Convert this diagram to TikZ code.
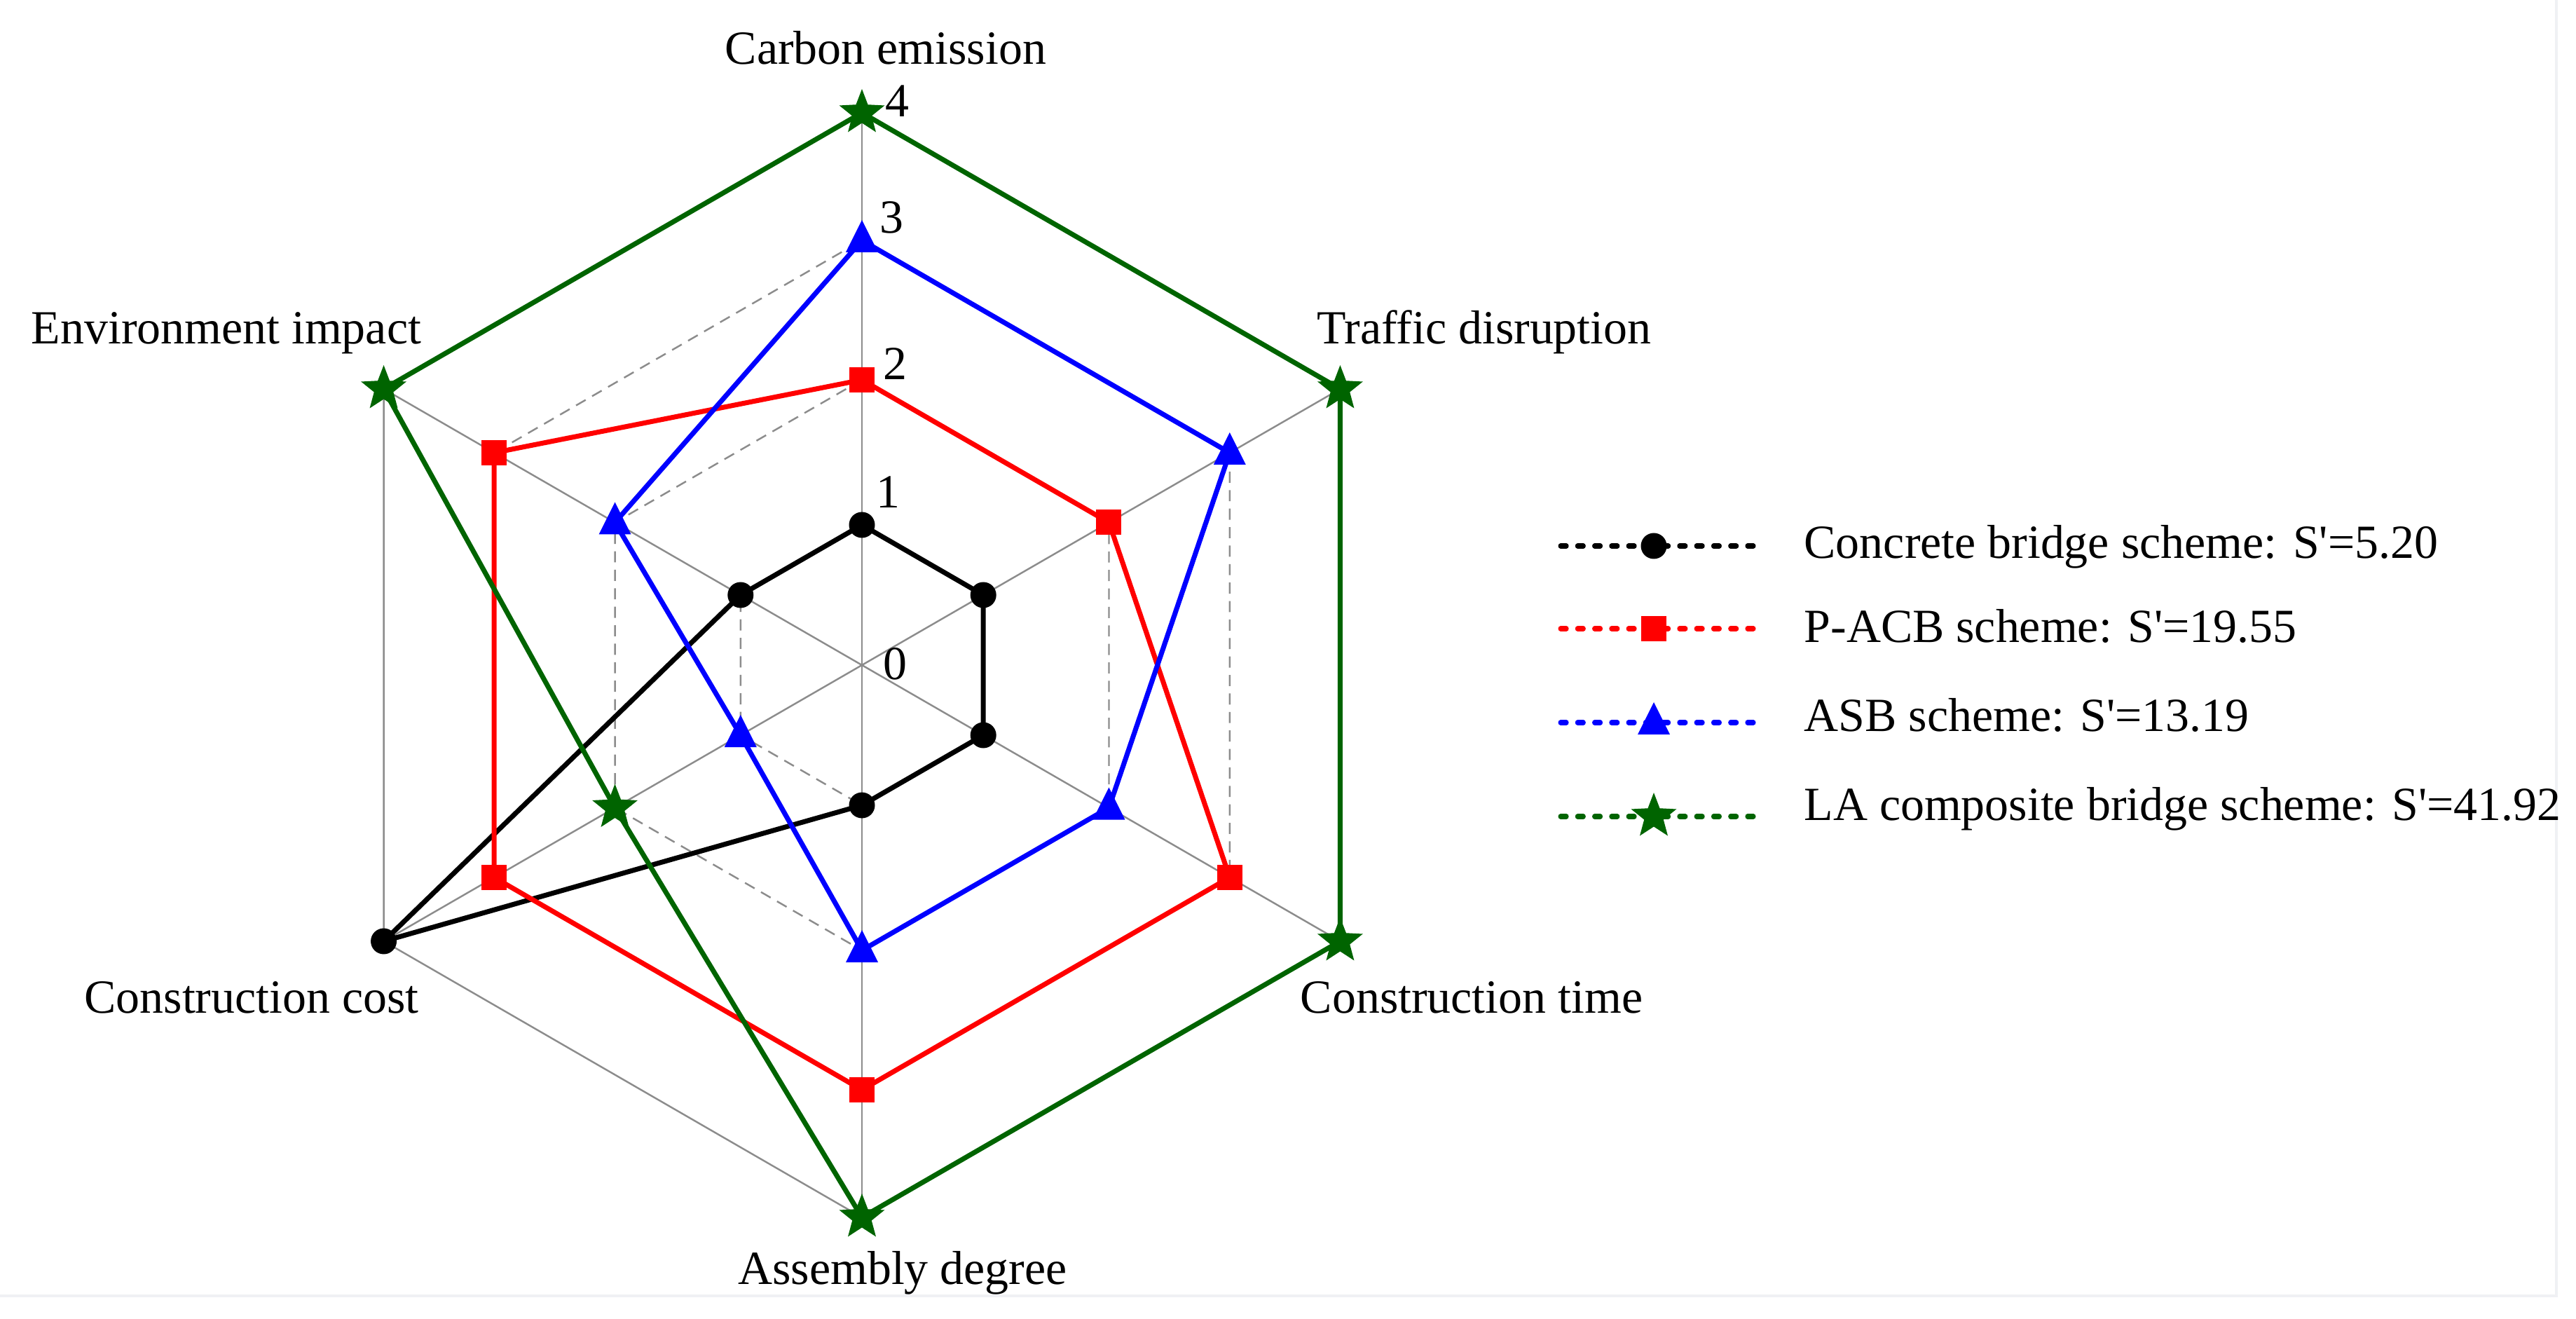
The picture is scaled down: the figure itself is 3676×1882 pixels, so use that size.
\documentclass[tikz,border=0pt]{standalone}
\usepackage{fontspec}
\setmainfont{Liberation Serif}
\definecolor{gridgray}{RGB}{140,140,140}
\definecolor{lagreen}{RGB}{0,100,0}
\definecolor{framegray}{RGB}{240,241,244}
\newcommand\mkCirc[2]{\fill[#2] (#1) circle (18.5);}
\newcommand\mkSq[2]{\fill[#2,shift={(#1)}] (-18,-18) rectangle (18,18);}
\newcommand\mkTri[2]{\fill[#2,shift={(#1)}] (0,29) -- (-23,-17) -- (23,-17) -- cycle;}
\newcommand\mkStar[2]{\fill[#2,shift={(#1)}] (90:34) -- (126:14.5) -- (162:34) -- (198:14.5) -- (234:34) -- (270:14.5) -- (306:34) -- (342:14.5) -- (18:34) -- (54:14.5) -- cycle;}
\newcommand\sq{\XeTeXglyph\XeTeXcharglyph"27\relax}
\begin{document}
\begin{tikzpicture}[x=0.01cm,y=0.01cm,
  font=\fontsize{19.3}{23}\selectfont,
  gridline/.style={draw=gridgray,line width=0.7pt},
  gridring/.style={draw=gridgray,line width=0.7pt,dash pattern=on 4.5pt off 3pt},
  series/.style={line width=2pt,line join=miter},
  legline/.style={line width=2pt,line cap=round,dash pattern=on 2.3pt off 4.6pt},
  axlabel/.style={anchor=base,inner sep=0pt},
  ticklabel/.style={anchor=base west,inner sep=0pt},
  legtext/.style={anchor=base west,inner sep=0pt}]
\useasboundingbox (-1230,-933) rectangle (2446,949);
% faint frame of the original screenshot
\draw[framegray,line width=1pt] (-1230,-900) -- (2418,-900) -- (2418,949);
\def\rA{200}\def\rB{407}\def\rC{606}\def\rD{788}
% grid
\coordinate (O) at (0,0);
\foreach \a in {90,30,-30,-90,-150,150} \draw[gridline] (O) -- (\a:\rD);
\foreach \r in {\rA,\rB,\rC} \draw[gridring] (90:\r) -- (30:\r) -- (-30:\r) -- (-90:\r) -- (-150:\r) -- (150:\r) -- cycle;
\draw[gridline] (90:\rD) -- (30:\rD) -- (-30:\rD) -- (-90:\rD) -- (-150:\rD) -- (150:\rD) -- cycle;
% data points
\coordinate (k1) at (90:\rA); \coordinate (k2) at (30:\rA); \coordinate (k3) at (-30:\rA);
\coordinate (k4) at (-90:\rA); \coordinate (k5) at (210:\rD); \coordinate (k6) at (150:\rA);
\coordinate (r1) at (90:\rB); \coordinate (r2) at (30:\rB); \coordinate (r3) at (-30:\rC);
\coordinate (r4) at (-90:\rC); \coordinate (r5) at (210:\rC); \coordinate (r6) at (150:\rC);
\coordinate (b1) at (90:\rC); \coordinate (b2) at (30:\rC); \coordinate (b3) at (-30:\rB);
\coordinate (b4) at (-90:\rB); \coordinate (b5) at (210:\rA); \coordinate (b6) at (150:\rB);
\coordinate (g1) at (90:\rD); \coordinate (g2) at (30:\rD); \coordinate (g3) at (-30:\rD);
\coordinate (g4) at (-90:\rD); \coordinate (g5) at (210:\rB); \coordinate (g6) at (150:\rD);
% series
\draw[series,black] (k1) -- (k2) -- (k3) -- (k4) -- (k5) -- (k6) -- cycle;
\foreach \p in {k1,k2,k3,k4,k5,k6} {\mkCirc{\p}{black}}
\draw[series,red] (r1) -- (r2) -- (r3) -- (r4) -- (r5) -- (r6) -- cycle;
\foreach \p in {r1,r2,r3,r4,r5,r6} {\mkSq{\p}{red}}
\draw[series,blue] (b1) -- (b2) -- (b3) -- (b4) -- (b5) -- (b6) -- cycle;
\foreach \p in {b1,b2,b3,b4,b5,b6} {\mkTri{\p}{blue}}
\draw[series,lagreen] (g1) -- (g2) -- (g3) -- (g4) -- (g5) -- (g6) -- cycle;
\foreach \p in {g1,g2,g3,g4,g5,g6} {\mkStar{\p}{lagreen}}
% axis labels
\node[axlabel] (lc) at (34,857) {Carbon emission};
\node[axlabel] (lt) at (888,458) {Traffic disruption};
\node[axlabel] (le) at (-907,458) {Environment impact};
\node[axlabel] (lco) at (-871,-496) {Construction cost};
\node[axlabel] (lti) at (870,-496) {Construction time};
\node[axlabel] (la) at (58,-883) {Assembly degree};
% tick labels
\node[ticklabel] (t4) at (33,782) {4};
\node[ticklabel] (t3) at (25,616) {3};
\node[ticklabel] (t2) at (30,407) {2};
\node[ticklabel] (t1) at (20,224) {1};
\node[ticklabel] (t0) at (30,-21) {0};
% legend
\coordinate (l1a) at (997,170); \coordinate (l1b) at (1277,170); \coordinate (l1m) at (1130,170);
\coordinate (l2a) at (997,52);  \coordinate (l2b) at (1277,52);  \coordinate (l2m) at (1130,52);
\coordinate (l3a) at (997,-82); \coordinate (l3b) at (1277,-82); \coordinate (l3m) at (1130,-82);
\coordinate (l4a) at (997,-216);\coordinate (l4b) at (1277,-216);\coordinate (l4m) at (1130,-216);
\draw[legline,black] (l1a) -- (l1b); \mkCirc{l1m}{black}
\draw[legline,red] (l2a) -- (l2b); \mkSq{l2m}{red}
\draw[legline,blue] (l3a) -- (l3b); \mkTri{l3m}{blue}
\draw[legline,lagreen] (l4a) -- (l4b); \mkStar{l4m}{lagreen}
\node[legtext] (n1) at (1344,152) {Concrete bridge scheme: S\sq=5.20};
\node[legtext] (n2) at (1344,32) {P-ACB scheme: S\sq=19.55};
\node[legtext] (n3) at (1344,-94) {ASB scheme: S\sq=13.19};
\node[legtext] (n4) at (1344,-221) {LA composite bridge scheme: S\sq=41.92};
\end{tikzpicture}
\end{document}
